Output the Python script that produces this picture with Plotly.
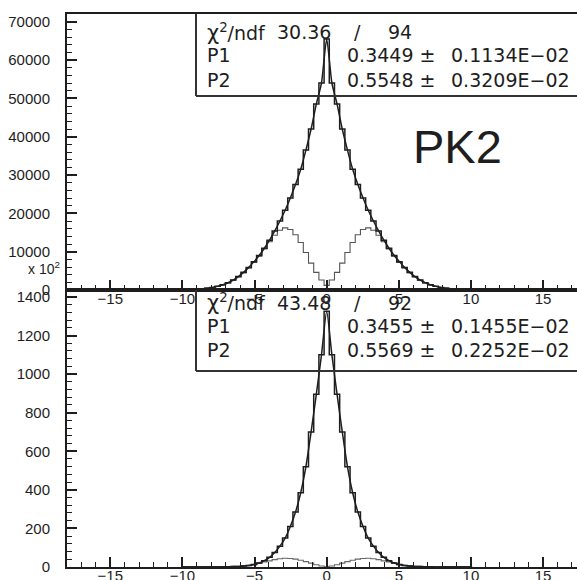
import plotly.graph_objects as go

# ---------------- data ----------------
bin_centers = [-10.08, -9.72, -9.36, -9.00, -8.64, -8.28, -7.92, -7.56, -7.20, -6.84,
               -6.48, -6.12, -5.76, -5.40, -5.04, -4.68, -4.32, -3.96, -3.60, -3.24,
               -2.88, -2.52, -2.16, -1.80, -1.44, -1.08, -0.72, -0.36, 0.00,
               0.36, 0.72, 1.08, 1.44, 1.80, 2.16, 2.52, 2.88, 3.24, 3.60,
               3.96, 4.32, 4.68, 5.04, 5.40, 5.76, 6.12, 6.48, 6.84, 7.20,
               7.56, 7.92, 8.28, 8.64, 9.00, 9.36, 9.72, 10.08]

top_total = [40, 70, 110, 180, 280, 430, 650, 950, 1350, 1900,
             2600, 3500, 4600, 5900, 7400, 9000, 10900, 13000, 15400, 18000,
             20800, 24000, 27500, 31500, 36500, 42000, 48500, 54000, 65500,
             54000, 48500, 42000, 36500, 31500, 27500, 24000, 20800, 18000, 15400,
             13000, 10900, 9000, 7400, 5900, 4600, 3500, 2600, 1900, 1350,
             950, 650, 430, 280, 180, 110, 70, 40]

top_component = [38, 68, 105, 175, 270, 420, 630, 920, 1310, 1850,
                 2530, 3400, 4480, 5750, 7200, 8800, 10700, 12600, 14300, 15600,
                 16200, 15800, 14400, 12400, 9800, 7000, 4600, 2600, 1200,
                 2600, 4600, 7000, 9800, 12400, 14400, 15800, 16200, 15600, 14300,
                 12600, 10700, 8800, 7200, 5750, 4480, 3400, 2530, 1850, 1310,
                 920, 630, 420, 270, 175, 105, 68, 38]

bottom_total = [0, 0, 0, 0, 0, 0.1, 0.2, 0.4, 0.7, 1.2,
                2, 3, 5, 8, 13, 21, 33, 50, 75, 108,
                150, 210, 285, 385, 520, 700, 895, 1100, 1326,
                1100, 895, 700, 520, 385, 285, 210, 150, 108, 75,
                50, 33, 21, 13, 8, 5, 3, 2, 1.2, 0.7,
                0.4, 0.2, 0.1, 0, 0, 0, 0, 0]

bottom_component = [0, 0, 0, 0, 0, 0.1, 0.2, 0.35, 0.6, 1.1,
                    1.9, 2.9, 4.8, 7.7, 12.5, 19.5, 26, 32, 38, 43,
                    45, 44, 41, 35, 28, 20, 12, 5, 1,
                    5, 12, 20, 28, 35, 41, 44, 45, 43, 38,
                    32, 26, 19.5, 12.5, 7.7, 4.8, 2.9, 1.9, 1.1, 0.6,
                    0.35, 0.2, 0.1, 0, 0, 0, 0, 0]

x_ticks = [-15, -10, -5, 0, 5, 10, 15]
top_y_ticks = [0, 10000, 20000, 30000, 40000, 50000, 60000, 70000]
bottom_y_ticks = [0, 200, 400, 600, 800, 1000, 1200, 1400]

top_stats = {"chi2": "30.36", "ndf": "94",
             "P1": ("0.3449 ±", "0.1134E−02"),
             "P2": ("0.5548 ±", "0.3209E−02")}
bottom_stats = {"chi2": "43.48", "ndf": "92",
                "P1": ("0.3455 ±", "0.1455E−02"),
                "P2": ("0.5569 ±", "0.2252E−02")}

# ---------------- layout geometry (pixels) ----------------
W, H = 577, 580
ML, MR, MT, MB = 67, 0, 14, 13
PW, PH = W - ML - MR, H - MT - MB
SPLIT_Y = 290  # pixel row where panels meet


def px(x):
    return (x - ML) / PW


def py(y):
    return (H - MB - y) / PH


split = py(SPLIT_Y)
FONT = "Liberation Sans, Arial, sans-serif"
BOXFONT = "DejaVu Sans, Verdana, sans-serif"
INK = "#1e1e1e"

fig = go.Figure()

# top panel
fig.add_trace(go.Scatter(x=bin_centers, y=top_component, mode="lines", line_shape="hvh",
                         line=dict(color="#555555", width=1.1), xaxis="x", yaxis="y"))
fig.add_trace(go.Scatter(x=bin_centers, y=top_total, mode="lines", line_shape="hvh",
                         line=dict(color=INK, width=1.5), xaxis="x", yaxis="y"))
fig.add_trace(go.Scatter(x=bin_centers, y=top_total, mode="lines", line_shape="spline",
                         line=dict(color=INK, width=1.5, smoothing=0.6), xaxis="x", yaxis="y"))

# bottom panel
fig.add_trace(go.Scatter(x=bin_centers, y=bottom_component, mode="lines", line_shape="hvh",
                         line=dict(color="#666666", width=1.1), xaxis="x2", yaxis="y2"))
fig.add_trace(go.Scatter(x=bin_centers, y=bottom_total, mode="lines", line_shape="hvh",
                         line=dict(color=INK, width=1.5), xaxis="x2", yaxis="y2"))
fig.add_trace(go.Scatter(x=bin_centers, y=bottom_total, mode="lines", line_shape="spline",
                         line=dict(color=INK, width=1.5, smoothing=0.6), xaxis="x2", yaxis="y2"))

xr = [-18, 17.35]
common_x = dict(range=xr, tickvals=x_ticks, ticks="inside", ticklen=10, tickwidth=1.5,
                tickcolor=INK, showline=True, linecolor=INK, linewidth=2, mirror=True,
                showgrid=False, zeroline=False, automargin=False, ticklabelstandoff=-6,
                tickfont=dict(family=FONT, size=15, color=INK),
                minor=dict(ticks="inside", ticklen=5, dtick=1, tickcolor=INK, tickwidth=1.2))
common_y = dict(ticks="inside", ticklen=10, tickwidth=1.5, tickcolor=INK, tickformat="d",
                showline=True, linecolor=INK, linewidth=2, showgrid=False, zeroline=False,
                automargin=False,
                tickfont=dict(family=FONT, size=15, color=INK), ticklabelstandoff=12)

fig.update_layout(
    width=W, height=H,
    margin=dict(l=ML, r=MR, t=MT, b=MB, pad=0, autoexpand=False),
    paper_bgcolor="white", plot_bgcolor="rgba(0,0,0,0)",
    showlegend=False,
    xaxis=dict(domain=[0, 1], anchor="y", **common_x),
    yaxis=dict(domain=[split, 1], anchor="x", range=[0, 72000], tickvals=top_y_ticks,
               minor=dict(ticks="inside", ticklen=5, dtick=2000, tickcolor=INK, tickwidth=1.2),
               **common_y),
    xaxis2=dict(domain=[0, 1], anchor="y2", **common_x),
    yaxis2=dict(domain=[0, split], anchor="x2", range=[0, 1436], tickvals=bottom_y_ticks,
                minor=dict(ticks="inside", ticklen=5, dtick=40, tickcolor=INK, tickwidth=1.2),
                **common_y),
)

shapes = []
for top_y, bot_y in [(14, 96), (SPLIT_Y, 371)]:
    shapes.append(dict(type="line", xref="paper", yref="paper", x0=px(196), x1=px(196),
                       y0=py(top_y), y1=py(bot_y), line=dict(color="#333333", width=2)))
    shapes.append(dict(type="line", xref="paper", yref="paper", x0=px(196), x1=px(W + 5),
                       y0=py(bot_y), y1=py(bot_y), line=dict(color="#333333", width=2)))
fig.update_layout(shapes=shapes)


def txt(x, y, s, size=19, anchor="left", family=BOXFONT):
    fig.add_annotation(x=px(x), y=py(y), xref="paper", yref="paper", text=s,
                       showarrow=False, xanchor=anchor, yanchor="middle",
                       font=dict(family=family, size=size, color=INK))


for stats, rows in [(top_stats, (32.5, 55, 79.5)), (bottom_stats, (302.5, 326, 349.5))]:
    r1, r2, r3 = rows
    txt(205, r1, "<span style='font-size:21px'>χ</span><sup>2</sup>/ndf")
    txt(275, r1, stats["chi2"])
    txt(352, r1, "/")
    txt(414, r1, stats["ndf"], anchor="right")
    for name, r in (("P1", r2), ("P2", r3)):
        txt(205, r, name)
        txt(437, r, stats[name][0], anchor="right")
        txt(572, r, stats[name][1], anchor="right")

txt(411, 146, "PK2", size=47, family=FONT)
txt(44, 268, "x 10<sup>2</sup>", size=14, anchor="center", family=FONT)

fig.write_html("out.html")
